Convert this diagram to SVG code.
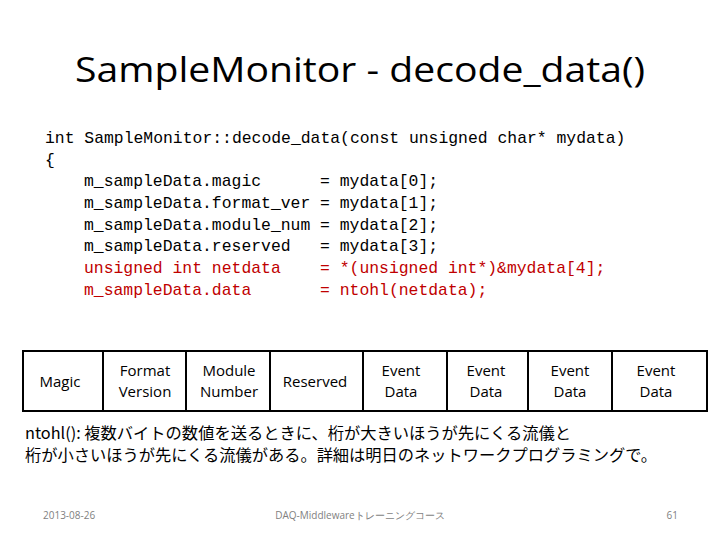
<svg xmlns="http://www.w3.org/2000/svg" width="720" height="540" viewBox="0 0 720 540">
<style>
.code{font-family:"Liberation Mono","DejaVu Sans Mono",monospace;font-size:16.4px;fill:#000;white-space:pre}
.red{fill:#c00000}
.cell{font-family:"Open Sans","Liberation Sans",sans-serif;font-size:15px;text-anchor:middle}
.jp{font-family:"Noto Sans CJK JP",sans-serif;font-size:16px}
.foot{font-family:"Open Sans","Liberation Sans",sans-serif;font-size:10px;fill:#7f7f7f}
</style>
<rect width="720" height="540" fill="#fff"/>
<text x="360" y="82" text-anchor="middle" font-family="Open Sans, Liberation Sans, sans-serif" font-size="34" textLength="570" lengthAdjust="spacingAndGlyphs">SampleMonitor - decode_data()</text>
<g id="code">
<text class="code" x="45" y="143">int SampleMonitor::decode_data(const unsigned char* mydata)</text>
<text class="code" x="45" y="165">{</text>
<text class="code" x="84" y="186">m_sampleData.magic      = mydata[0];</text>
<text class="code" x="84" y="208">m_sampleData.format_ver = mydata[1];</text>
<text class="code" x="84" y="230">m_sampleData.module_num = mydata[2];</text>
<text class="code" x="84" y="251">m_sampleData.reserved   = mydata[3];</text>
<text class="code red" x="84" y="273">unsigned int netdata    = *(unsigned int*)&amp;mydata[4];</text>
<text class="code red" x="84" y="295">m_sampleData.data       = ntohl(netdata);</text>
</g>
<g id="table" fill="none" stroke="#000" stroke-width="2">
<rect x="23" y="351" width="684" height="60"/>
<path d="M103 351V411M186 351V411M270 351V411M363 351V411M447 351V411M528 351V411M612 351V411"/>
</g>
<g id="cells">
<text class="cell" x="60" y="387">Magic</text>
<text class="cell" x="145" y="376">Format</text><text class="cell" x="145" y="397">Version</text>
<text class="cell" x="229" y="376">Module</text><text class="cell" x="229" y="397">Number</text>
<text class="cell" x="315" y="387">Reserved</text>
<text class="cell" x="401" y="376">Event</text><text class="cell" x="401" y="397">Data</text>
<text class="cell" x="486" y="376">Event</text><text class="cell" x="486" y="397">Data</text>
<text class="cell" x="570" y="376">Event</text><text class="cell" x="570" y="397">Data</text>
<text class="cell" x="656" y="376">Event</text><text class="cell" x="656" y="397">Data</text>
</g>
<g id="note">
<text class="jp" x="25" y="439" textLength="546" lengthAdjust="spacingAndGlyphs">ntohl(): 複数バイトの数値を送るときに、桁が大きいほうが先にくる流儀と</text>
<text class="jp" x="25" y="461" textLength="632" lengthAdjust="spacingAndGlyphs">桁が小さいほうが先にくる流儀がある。詳細は明日のネットワークプログラミングで。</text>
</g>
<g id="footer">
<text class="foot" x="43" y="519">2013-08-26</text>
<text class="foot" x="360" y="519" text-anchor="middle" font-family="Noto Sans CJK JP,sans-serif">DAQ-Middlewareトレーニングコース</text>
<text class="foot" x="678" y="519" text-anchor="end">61</text>
</g>
</svg>
